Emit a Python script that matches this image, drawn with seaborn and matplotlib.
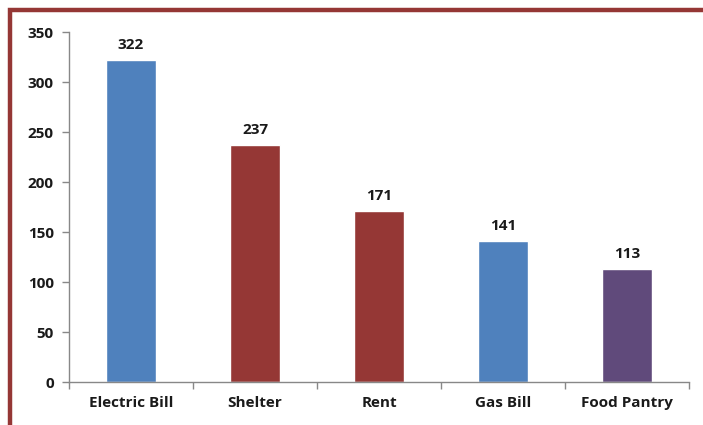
import matplotlib.pyplot as plt
import matplotlib.patches as patches
import seaborn as sns
import pandas as pd

# chart data
categories = ['Electric Bill', 'Shelter', 'Rent', 'Gas Bill', 'Food Pantry']
counts = [322, 237, 171, 141, 113]
bar_colors = ['#4F81BD', '#953735', '#953735', '#4F81BD', '#604A7B']

df = pd.DataFrame({'Category': categories, 'Count': counts})

sns.set_style('white')
plt.rcParams['font.family'] = ['Open Sans', 'DejaVu Sans']

fig = plt.figure(figsize=(7.03, 4.25), dpi=100)
ax = fig.add_axes([69 / 703, 1 - 382 / 425, (689 - 69) / 703, (382 - 32) / 425])

sns.barplot(data=df, x='Category', y='Count', hue='Category',
            palette=bar_colors, legend=False, width=0.4, ax=ax,
            saturation=1)

# value labels
for i, v in enumerate(counts):
    ax.text(i, v + 8, str(v), ha='center', va='bottom',
            fontsize=11, fontweight='bold', color='#1a1a1a')

ax.set_ylim(0, 350)
ax.set_xlim(-0.5, len(categories) - 0.5)
ax.set_yticks(range(0, 351, 50))
ax.set_xlabel('')
ax.set_ylabel('')

# tick marks at category boundaries
ax.set_xticks([i - 0.5 for i in range(len(categories) + 1)], minor=True)
ax.tick_params(axis='x', which='major', bottom=False, length=0, pad=10,
               labelsize=11, labelcolor='#1a1a1a')
ax.tick_params(axis='x', which='minor', bottom=True, length=5, width=1,
               color='#888888', direction='out')
ax.tick_params(axis='y', left=True, length=5, width=1, color='#888888', direction='out',
               labelsize=11, labelcolor='#1a1a1a', pad=6)
for lbl in ax.get_xticklabels() + ax.get_yticklabels():
    lbl.set_fontweight('bold')

sns.despine(ax=ax)
for side in ['left', 'bottom']:
    ax.spines[side].set_color('#888888')
    ax.spines[side].set_linewidth(1)

# dark red frame around the chart area (right and bottom sides run off the image)
frame = patches.Rectangle((9.5 / 703, -0.1), 1.2, 1.1 - 10 / 425,
                          transform=fig.transFigure, fill=False,
                          edgecolor='#953735', linewidth=3.2, clip_on=False)
fig.patches.append(frame)

fig.savefig('out.png', dpi=100)
